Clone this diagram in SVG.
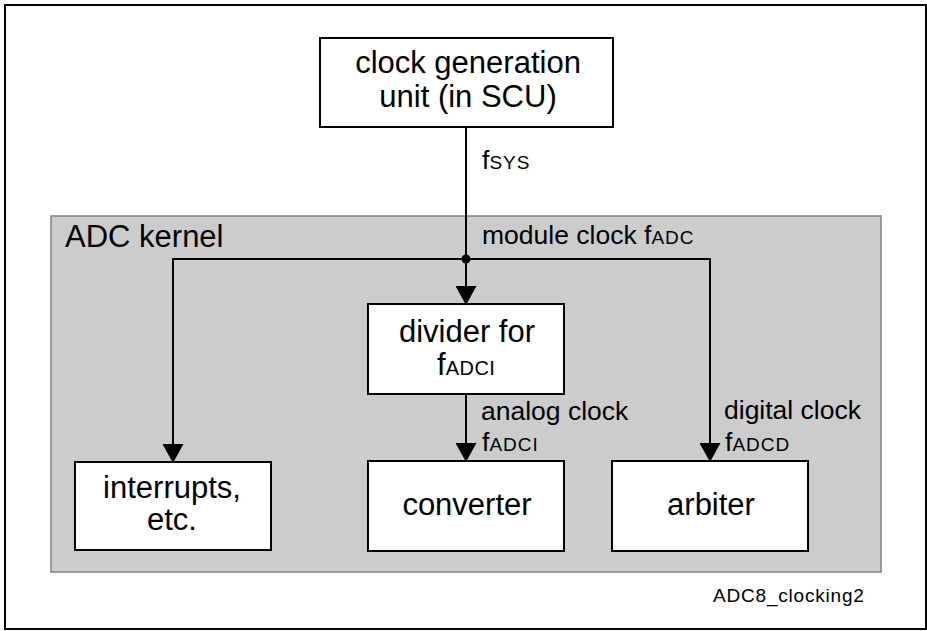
<svg xmlns="http://www.w3.org/2000/svg" width="927" height="631" viewBox="0 0 927 631">
<style>
.box{fill:#fff;stroke:#000;stroke-width:2}
.kernel{fill:#cccccc;stroke:#808080;stroke-width:1.5}
.bt{font-family:"Liberation Sans",Arial,sans-serif;font-size:31px;text-anchor:middle;fill:#000}
.lb{font-family:"Liberation Sans",Arial,sans-serif;font-size:26.5px;fill:#000}
.sub{font-size:19px;letter-spacing:1px}
.wire{fill:none;stroke:#000;stroke-width:2}
</style>
<defs>
<marker id="arr" viewBox="0 0 19 21" refX="18" refY="10.5" markerWidth="19" markerHeight="21" markerUnits="userSpaceOnUse" orient="auto">
<path d="M0,0 L19,10.5 L0,21 z" fill="#000"/>
</marker>
</defs>
<rect x="5" y="5" width="921" height="624" fill="#fff" stroke="#000" stroke-width="2"/>
<g id="kernel">
<rect class="kernel" x="51" y="216" width="830" height="356"/>
<text class="lb" x="65" y="247" style="font-size:31px">ADC kernel</text>
</g>
<g id="clockgen">
<rect class="box" x="320" y="38" width="293" height="89"/>
<text class="bt" x="468" y="73">clock generation</text>
<text class="bt" x="468" y="107">unit (in SCU)</text>
</g>
<g id="divider">
<rect class="box" x="368" y="304" width="196" height="90"/>
<text class="bt" x="467" y="342">divider for</text>
<text x="437" y="375" style="font-family:'Liberation Sans',Arial,sans-serif;font-size:31px">f<tspan style="font-size:20px;letter-spacing:0.5px">ADCI</tspan></text>
</g>
<g id="interrupts">
<rect class="box" x="75" y="462" width="196" height="88"/>
<text class="bt" x="172" y="498">interrupts,</text>
<text class="bt" x="172" y="530">etc.</text>
</g>
<g id="converter">
<rect class="box" x="368" y="461" width="196" height="90"/>
<text class="bt" x="467" y="515">converter</text>
</g>
<g id="arbiter">
<rect class="box" x="612" y="461" width="196" height="90"/>
<text class="bt" x="711" y="515">arbiter</text>
</g>
<g id="connectors">
<path class="wire" d="M466,127 V304" marker-end="url(#arr)"/>
<path class="wire" d="M466,259 H173 V462" marker-end="url(#arr)"/>
<path class="wire" d="M466,259 H710 V461" marker-end="url(#arr)"/>
<path class="wire" d="M466,394 V461" marker-end="url(#arr)"/>
<circle cx="466" cy="259" r="4.5" fill="#000"/>
<text class="lb" x="482" y="169">f<tspan class="sub">SYS</tspan></text>
<text class="lb" x="482" y="244">module clock f<tspan class="sub">ADC</tspan></text>
<text class="lb" x="481" y="420">analog clock</text>
<text class="lb" x="482" y="451">f<tspan class="sub">ADCI</tspan></text>
<text class="lb" x="724" y="419">digital clock</text>
<text class="lb" x="725" y="451">f<tspan class="sub">ADCD</tspan></text>
</g>
<text class="lb" x="713" y="602" style="font-size:19px;letter-spacing:0.8px">ADC8_clocking2</text>
</svg>
